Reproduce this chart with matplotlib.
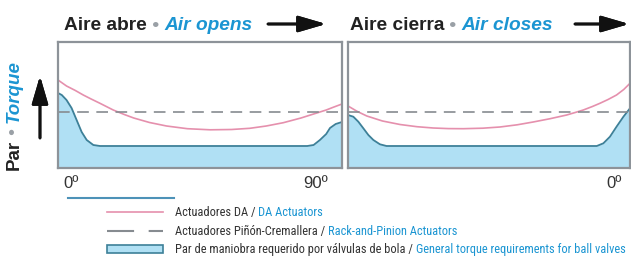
import matplotlib
matplotlib.use("Agg")
import matplotlib.pyplot as plt
from matplotlib.lines import Line2D
from matplotlib.patches import Rectangle

# torque readings (arbitrary units, 0 = bottom of box, 126 = top)
# "Air opens" panel, angle 0 -> 90
valve_open_deg = [0, 1.2, 2.7, 4.3, 5.9, 7.5, 9.1, 11.2, 13.3, 79, 81, 83, 85, 86.2, 88, 90]
valve_open_tq = [75, 73, 68, 60, 48, 36, 28, 23, 22, 22, 23, 28, 34, 40, 44, 46]
da_open_deg = [0, 2.7, 5.5, 8, 10.5, 13.3, 17.5, 21, 24, 29, 34.4, 41, 48.2, 55, 60.8, 66,
               71.4, 77, 82, 85, 87.2, 90]
da_open_tq = [88, 82, 77.5, 73, 69, 64.7, 58, 53.5, 50, 45.5, 42, 39.3, 38.2, 38.5, 39.7, 42,
              45.3, 50, 55, 58, 60.7, 64]

# "Air closes" panel, angle 90 -> 0
valve_close_deg = [90, 88.3, 86.7, 85.1, 83.5, 81.9, 79.8, 77.7, 10.6, 8.5, 6.4, 4.3, 2.1, 0]
valve_close_tq = [53, 51.3, 46.3, 39.7, 33, 28, 23.7, 22, 22, 24.7, 31.3, 41.3, 51.3, 59.7]
da_close_deg = [90, 87, 84, 79, 73.4, 68, 62.8, 58, 53.2, 47, 41.5, 36, 30.9, 25.5, 20.2,
                17.5, 14.9, 12, 9.6, 7, 4.3, 2, 0]
da_close_tq = [62, 56.5, 52, 47, 43.5, 41.3, 40, 39.4, 39.3, 39.8, 41, 43.2, 46, 49.3, 53,
               55.5, 58, 61.5, 64.7, 68.5, 73, 78.5, 84.7]

rack_pinion_tq = 56
angle_labels = ["0º", "90º", "0º"]

pink = "#e590ad"
grey_dash = "#868b90"
valve_line = "#3d8098"
valve_fill = "#b0e0f4"
blue_txt = "#1b95d2"
dark = "#222222"
frame = "#8d9399"

fig = plt.figure(figsize=(6.31, 2.66), dpi=100)
W, H = 631, 266


def px_axes(x0, x1, ytop, ybot):
    return fig.add_axes([x0 / W, (H - ybot) / H, (x1 - x0) / W, (ybot - ytop) / H])


ax1 = px_axes(58, 342, 42, 168)
ax2 = px_axes(348, 630, 42, 168)

panels = [
    (ax1, valve_open_deg, valve_open_tq, da_open_deg, da_open_tq, False),
    (ax2, valve_close_deg, valve_close_tq, da_close_deg, da_close_tq, True),
]
for ax, vd, vt, dd, dt, flip in panels:
    ax.fill_between(vd, vt, 0, color=valve_fill, lw=0)
    ax.plot(vd, vt, color=valve_line, lw=1.3)
    ax.plot(dd, dt, color=pink, lw=1.2)
    ax.axhline(rack_pinion_tq, color=grey_dash, lw=1.2, dashes=(7, 4.5))
    ax.set_xlim(90, 0) if flip else ax.set_xlim(0, 90)
    ax.set_ylim(0, 126)
    ax.set_xticks([])
    ax.set_yticks([])
    for s in ax.spines.values():
        s.set_color(frame)
        s.set_linewidth(1.6)

narrow = ["Liberation Sans Narrow", "Roboto Condensed", "DejaVu Sans"]
sans = ["Liberation Sans", "DejaVu Sans"]


def two_tone(x, y, parts, size, family, weight="normal", rot=0):
    # consecutive pieces of text, each placed after the previous one
    last = None
    for txt, color, style in parts:
        kw = dict(fontsize=size, color=color, family=family, style=style,
                  weight=weight, rotation=rot)
        if last is None:
            if rot:
                last = fig.text(x / W, y / H, txt, ha="center", va="bottom", **kw)
            else:
                last = fig.text(x / W, y / H, txt, ha="left", va="baseline", **kw)
        elif rot:
            last = ax1.annotate(txt, xy=(0.5, 1), xycoords=last, ha="center", va="bottom",
                                annotation_clip=False, **kw)
        else:
            last = ax1.annotate(txt, xy=(1, 0), xycoords=last, ha="left", va="bottom",
                                annotation_clip=False, **kw)
    return last


# titles
two_tone(64, 236, [("Aire abre", dark, "normal"), (" • ", "#9aa0a6", "normal"),
                   ("Air opens", blue_txt, "italic")], 13.8, sans, weight="bold")
two_tone(350, 236, [("Aire cierra", dark, "normal"), (" • ", "#9aa0a6", "normal"),
                    ("Air closes", blue_txt, "italic")], 13.8, sans, weight="bold")

arrow_kw = dict(arrowstyle="-|>,head_length=1.3,head_width=0.38", color="#111111", lw=2,
                shrinkA=0, shrinkB=0, mutation_scale=13)
for xs, xe in [(268, 326), (575, 629)]:
    fig.add_artist(plt.annotate("", xy=(xe, 242), xytext=(xs, 242), xycoords="figure pixels",
                                arrowprops=arrow_kw))

# y label with arrow
two_tone(14, 96, [("Par", dark, "normal"), (" • ", "#9aa0a6", "normal"),
                  ("Torque", blue_txt, "italic")], 13.5, sans, weight="bold", rot=90)
fig.add_artist(plt.annotate("", xy=(40, 190), xytext=(40, 128), xycoords="figure pixels",
                            arrowprops=arrow_kw))

# angle labels
for xc, lab in zip([71, 316, 614], angle_labels):
    fig.text(xc / W, 83 / H, lab, fontsize=12, color="#333333", family=sans,
             ha="center", va="center")

# legend
fig.add_artist(Line2D([68 / W, 174 / W], [68 / H, 68 / H], color="#4d92b8", lw=1.5))
fig.add_artist(Line2D([107 / W, 163 / W], [54 / H, 54 / H], color=pink, lw=1.2))
fig.add_artist(Line2D([107 / W, 163 / W], [35 / H, 35 / H], color=grey_dash, lw=1.5,
                      dashes=(13, 7)))
fig.add_artist(Rectangle((107 / W, 13 / H), 56 / W, 8 / H, facecolor=valve_fill,
                         edgecolor=valve_line, lw=1.2, transform=fig.transFigure))

legend_rows = [
    (50, "Actuadores DA / ", "DA Actuators"),
    (31, "Actuadores Piñón-Cremallera / ", "Rack-and-Pinion Actuators"),
    (13, "Par de maniobra requerido por válvulas de bola / ", "General torque requirements for ball valves"),
]
for y, es, en in legend_rows:
    two_tone(175, y, [(es, "#333333", "normal"), (en, blue_txt, "normal")], 8.9, narrow)

fig.savefig("out.png", dpi=100)
